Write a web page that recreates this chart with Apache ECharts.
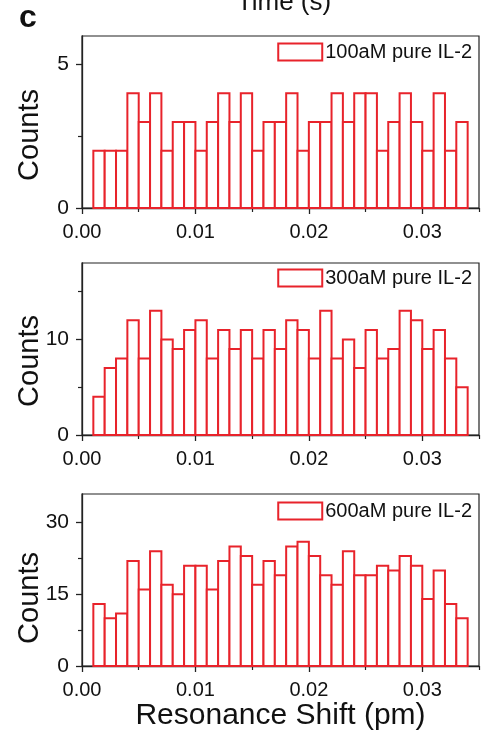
<!DOCTYPE html>
<html>
<head>
<meta charset="utf-8">
<script src="https://cdn.jsdelivr.net/npm/echarts@6/dist/echarts.min.js"></script>
<style>
html,body{margin:0;padding:0;background:#fff;}
#chart{width:481px;height:740px;}
</style>
</head>
<body>
<div id="chart"></div>
<script>
// ---- data ----
const binStart = [0.001,0.002,0.003,0.004,0.005,0.006,0.007,0.008,0.009,0.010,0.011,
  0.012,0.013,0.014,0.015,0.016,0.017,0.018,0.019,0.020,0.021,0.022,
  0.023,0.024,0.025,0.026,0.027,0.028,0.029,0.030,0.031,0.032,0.033];
const binWidth = 0.001;
const counts100 = [2,2,2,4,3,4,2,3,3,2,3,4,3,4,2,3,3,4,2,3,3,4,3,4,4,2,3,4,3,2,4,2,3];
const counts300 = [4,7,8,12,8,13,10,9,11,12,8,11,9,11,8,11,9,12,11,8,13,8,10,7,11,8,9,13,12,9,11,8,5];
const counts600 = [13,10,11,22,16,24,17,15,21,21,16,22,25,23,17,22,19,25,26,23,19,17,24,19,19,21,20,23,21,14,20,13,10];
const seriesNames = ['100aM pure IL-2','300aM pure IL-2','600aM pure IL-2'];
const xTickLabels = [0, 0.01, 0.02, 0.03];
const xMinorTicks = [0.005, 0.015, 0.025, 0.035];
const yMax = [6, 18, 36];
const yTickLabels = [[0,5],[0,10],[0,15,30]];
const yMinorTicks = [[2.5],[5,15],[7.5,22.5]];

// ---- style ----
const RED = '#e8232b';
const AX = '#222';
const FONT = 'Liberation Sans, Arial, sans-serif';
const tops = [36, 263, 494];
const plotH = 172;
const legendTops = [42, 268, 501];

const allCounts = [counts100, counts300, counts600];

const chart = echarts.init(document.getElementById('chart'));

const grids = [], xAxes = [], yAxes = [], series = [], legends = [];
for (let i = 0; i < 3; i++) {
  grids.push({left: 82, right: 2, top: tops[i], height: plotH, show: true,
    borderColor: AX, borderWidth: 1.2, backgroundColor: 'transparent', containLabel: false});
  xAxes.push({type: 'value', gridIndex: i, min: 0, max: 0.035, position: 'bottom',
    axisLine: {show: true, onZero: false, lineStyle: {color: AX, width: 1.3}},
    axisTick: {show: true, customValues: xTickLabels, length: 6, inside: false, lineStyle: {color: AX, width: 1.3}},
    axisLabel: {show: true, customValues: xTickLabels, margin: 14, color: '#111', fontSize: 20, fontFamily: FONT,
      formatter: v => Number(v).toFixed(2)},
    splitLine: {show: false},
    name: i === 2 ? 'Resonance Shift (pm)' : '', nameLocation: 'middle', nameGap: 28,
    nameTextStyle: {fontSize: 30, color: '#111', fontFamily: FONT, verticalAlign: 'top'}
  });
  xAxes.push({type: 'value', gridIndex: i, min: 0, max: 0.035, position: 'bottom',
    axisLine: {show: false, onZero: false},
    axisTick: {show: true, customValues: xMinorTicks, length: 4, lineStyle: {color: AX, width: 1.2}},
    axisLabel: {show: false}, splitLine: {show: false}});
  yAxes.push({type: 'value', gridIndex: i, min: 0, max: yMax[i], position: 'left',
    axisLine: {show: true, onZero: false, lineStyle: {color: AX, width: 1.3}},
    axisTick: {show: true, customValues: yTickLabels[i], length: 6, lineStyle: {color: AX, width: 1.3}},
    axisLabel: {show: true, customValues: yTickLabels[i], margin: 13, color: '#111', fontSize: 21, fontFamily: FONT},
    splitLine: {show: false}});
  yAxes.push({type: 'value', gridIndex: i, min: 0, max: yMax[i], position: 'left',
    axisLine: {show: false, onZero: false},
    axisTick: {show: true, customValues: yMinorTicks[i], length: 4, lineStyle: {color: AX, width: 1.2}},
    axisLabel: {show: false}, splitLine: {show: false}});

  const data = binStart.map((s, k) => [s, s + binWidth, allCounts[i][k]]);
  series.push({
    type: 'custom', name: seriesNames[i], xAxisIndex: 2 * i, yAxisIndex: 2 * i,
    itemStyle: {color: '#fff', borderColor: RED, borderWidth: 2},
    encode: {x: [0, 1], y: 2},
    data: data,
    renderItem: function (params, api) {
      const p0 = api.coord([api.value(0), 0]);
      const p1 = api.coord([api.value(1), api.value(2)]);
      return {type: 'rect',
        shape: {x: p0[0], y: p1[1], width: p1[0] - p0[0], height: p0[1] - p1[1]},
        style: {fill: '#fff', stroke: RED, lineWidth: 2}};
    }
  });
  legends.push({
    data: [{name: seriesNames[i], icon: 'rect', itemStyle: {color: '#fff', borderColor: RED, borderWidth: 2}}],
    right: 9, top: legendTops[i], itemWidth: 44, itemHeight: 17, itemGap: 4,
    padding: 0, selectedMode: false,
    textStyle: {fontSize: 20, color: '#111', fontFamily: FONT, padding: [0, 0, 0, -2]}
  });
}

const titleBase = {fontFamily: FONT, fill: '#111'};
chart.setOption({
  animation: false,
  backgroundColor: '#fff',
  grid: grids, xAxis: xAxes, yAxis: yAxes, series: series, legend: legends,
  graphic: [
    {type: 'text', x: 284, y: 3, style: Object.assign({text: 'Time (s)', fontSize: 26, align: 'center', verticalAlign: 'middle'}, titleBase)},
    {type: 'text', x: 19, y: 18, style: Object.assign({text: 'c', fontSize: 32, fontWeight: 'bold', align: 'left', verticalAlign: 'middle'}, titleBase)},
    {type: 'text', x: 30, y: 135, rotation: Math.PI / 2, style: Object.assign({text: 'Counts', fontSize: 29, align: 'center', verticalAlign: 'middle'}, titleBase)},
    {type: 'text', x: 30, y: 361, rotation: Math.PI / 2, style: Object.assign({text: 'Counts', fontSize: 29, align: 'center', verticalAlign: 'middle'}, titleBase)},
    {type: 'text', x: 30, y: 598, rotation: Math.PI / 2, style: Object.assign({text: 'Counts', fontSize: 29, align: 'center', verticalAlign: 'middle'}, titleBase)}
  ]
});
</script>
</body>
</html>
